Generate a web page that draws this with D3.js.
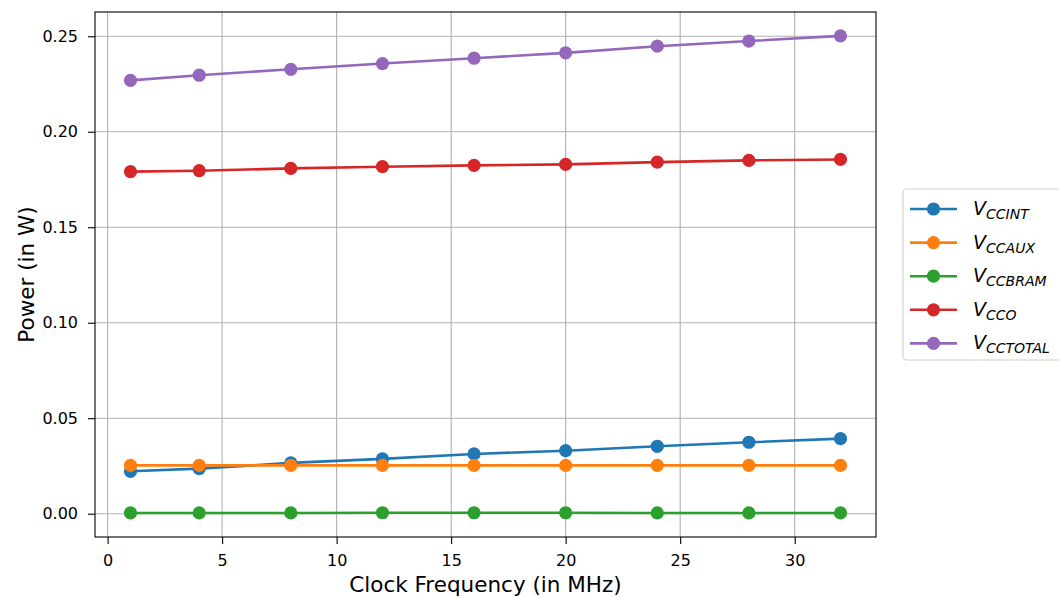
<!DOCTYPE html>
<html>
<head>
<meta charset="utf-8">
<script src="https://cdn.jsdelivr.net/npm/d3@7"></script>
<style>
  html, body { margin: 0; padding: 0; background: #fff; overflow: hidden; }
  svg { font-family: "DejaVu Sans", sans-serif; display: block; }
</style>
</head>
<body>
<div id="chart"></div>
<script>
// clock frequencies (MHz)
const freqs = [1, 4, 8, 12, 16, 20, 24, 28, 32];

// power per rail (W)
const vccint = [0.0222, 0.0236, 0.0266, 0.0287, 0.0313, 0.0330, 0.0353, 0.0374, 0.0393];
const vccaux = [0.0253, 0.0253, 0.0253, 0.0253, 0.0253, 0.0253, 0.0253, 0.0253, 0.0253];
const vccbram = [0.0004, 0.0004, 0.0004, 0.0005, 0.0005, 0.0005, 0.0004, 0.0004, 0.0004];
const vcco = [0.1791, 0.1796, 0.1808, 0.1817, 0.1824, 0.1829, 0.1841, 0.1850, 0.1855];
const vcctotal = [0.2269, 0.2296, 0.2327, 0.2357, 0.2385, 0.2413, 0.2448, 0.2475, 0.2502];

const seriesNames = ["CCINT", "CCAUX", "CCBRAM", "CCO", "CCTOTAL"];
const seriesValues = [vccint, vccaux, vccbram, vcco, vcctotal];
const colors = ["#1f77b4", "#ff7f0e", "#2ca02c", "#d62728", "#9467bd"];

const xTicks = [0, 5, 10, 15, 20, 25, 30];
const yTicks = [0, 0.05, 0.10, 0.15, 0.20, 0.25];

const width = 1059, height = 598;
const plot = { left: 95, right: 876, top: 12, bottom: 537 };

const svg = d3.select("#chart").append("svg")
  .attr("width", width)
  .attr("height", height);

const x = d3.scaleLinear().domain([-0.55, 33.55]).range([plot.left, plot.right]);
const y = d3.scaleLinear().domain([-0.0122, 0.2627]).range([plot.bottom, plot.top]);

// --- grid ---
const grid = svg.append("g");
grid.selectAll("line.gx").data(xTicks).enter().append("line")
  .attr("x1", d => x(d)).attr("x2", d => x(d))
  .attr("y1", plot.top).attr("y2", plot.bottom)
  .attr("stroke", "#b0b0b0").attr("stroke-width", 1.1);
grid.selectAll("line.gy").data(yTicks).enter().append("line")
  .attr("x1", plot.left).attr("x2", plot.right)
  .attr("y1", d => y(d)).attr("y2", d => y(d))
  .attr("stroke", "#b0b0b0").attr("stroke-width", 1.1);

// --- axes ---
const xAxis = svg.append("g")
  .attr("transform", `translate(0,${plot.bottom})`)
  .call(d3.axisBottom(x).tickValues(xTicks).tickFormat(d3.format("d")).tickSize(7).tickPadding(11));
const yAxis = svg.append("g")
  .attr("transform", `translate(${plot.left},0)`)
  .call(d3.axisLeft(y).tickValues(yTicks).tickFormat(d3.format(".2f")).tickSize(7).tickPadding(10));

[xAxis, yAxis].forEach(a => {
  a.select(".domain").remove();
  a.selectAll("line").attr("stroke", "#000").attr("stroke-width", 1.1);
  a.selectAll("text").attr("fill", "#000").style("font-size", "16px")
    .style("font-family", "'DejaVu Sans', sans-serif");
});

// --- series ---
const line = d3.line().x((d, i) => x(freqs[i])).y(d => y(d));

seriesValues.forEach((vals, k) => {
  const g = svg.append("g");
  g.append("path")
    .datum(vals)
    .attr("d", line)
    .attr("fill", "none")
    .attr("stroke", colors[k])
    .attr("stroke-width", 2.6);
  g.selectAll("circle").data(vals).enter().append("circle")
    .attr("cx", (d, i) => x(freqs[i]))
    .attr("cy", d => y(d))
    .attr("r", 6.6)
    .attr("fill", colors[k]);
});

// frame
svg.append("rect")
  .attr("x", plot.left).attr("y", plot.top)
  .attr("width", plot.right - plot.left).attr("height", plot.bottom - plot.top)
  .attr("fill", "none").attr("stroke", "#000").attr("stroke-width", 1.1);

// axis labels
svg.append("text")
  .attr("x", (plot.left + plot.right) / 2)
  .attr("y", 592)
  .attr("text-anchor", "middle")
  .style("font-size", "21.5px")
  .text("Clock Frequency (in MHz)");

svg.append("text")
  .attr("transform", `translate(34,${(plot.top + plot.bottom) / 2}) rotate(-90)`)
  .attr("text-anchor", "middle")
  .style("font-size", "21.5px")
  .text("Power (in W)");

// --- legend ---
const legend = svg.append("g");
legend.append("rect")
  .attr("x", 903).attr("y", 189)
  .attr("width", 170).attr("height", 171)
  .attr("rx", 4)
  .attr("fill", "#fff").attr("fill-opacity", 0.8)
  .attr("stroke", "#d0d0d0").attr("stroke-width", 1.1);

seriesNames.forEach((name, k) => {
  const cy = 209 + k * 33.6;
  legend.append("line")
    .attr("x1", 910).attr("x2", 957)
    .attr("y1", cy).attr("y2", cy)
    .attr("stroke", colors[k]).attr("stroke-width", 2.6);
  legend.append("circle")
    .attr("cx", 933.5).attr("cy", cy).attr("r", 6.6)
    .attr("fill", colors[k]);
  const t = legend.append("text")
    .attr("x", 973).attr("y", cy + 6)
    .style("font-style", "italic");
  t.append("tspan").style("font-size", "19px").text("V");
  t.append("tspan").style("font-size", "14px").attr("dy", 4).text(name);
});
</script>
</body>
</html>
